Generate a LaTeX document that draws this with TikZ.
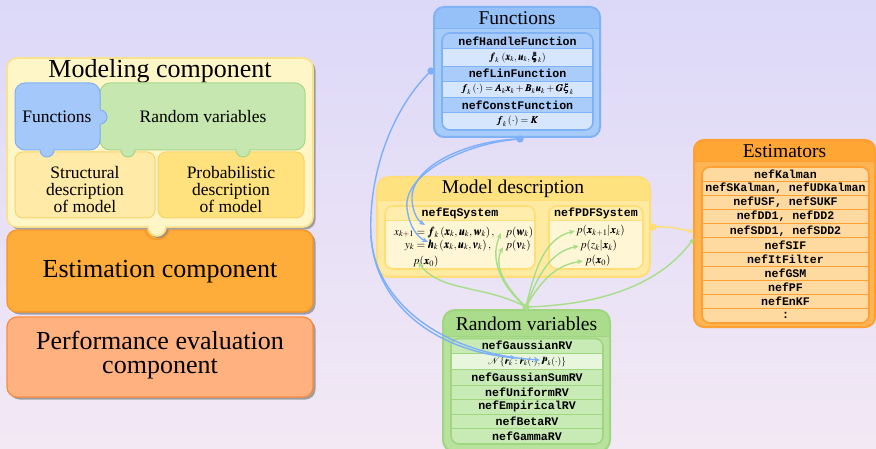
\documentclass[tikz,border=0pt]{standalone}
\usepackage{amsmath}
\usepackage{mathptmx}
\usepackage{bm}
\usepackage[no-math]{fontspec}
\setmainfont{Liberation Serif}
\setmonofont{Liberation Mono}
\usetikzlibrary{shadows,arrows.meta}

% background
\definecolor{bgtop}{RGB}{220,216,248}
\definecolor{bgbot}{RGB}{243,233,245}
% left-hand component blocks
\definecolor{modfill}{RGB}{255,246,200}
\definecolor{modbord}{RGB}{250,226,140}
\definecolor{funfill}{RGB}{164,200,250}
\definecolor{funbord}{RGB}{128,176,244}
\definecolor{rvfill}{RGB}{198,232,176}
\definecolor{rvbord}{RGB}{166,214,138}
\definecolor{strfill}{RGB}{255,234,168}
\definecolor{probfill}{RGB}{255,225,125}
\definecolor{ylbord}{RGB}{246,212,108}
\definecolor{estfill}{RGB}{255,173,58}
\definecolor{estbord}{RGB}{246,148,40}
\definecolor{perffill}{RGB}{255,178,128}
\definecolor{perfbord}{RGB}{255,138,62}
% class boxes
\definecolor{fbhead}{RGB}{150,192,248}
\definecolor{fbbody}{RGB}{168,204,250}
\definecolor{fbbord}{RGB}{128,178,246}
\definecolor{fbrowa}{RGB}{170,204,250}
\definecolor{fbrowb}{RGB}{214,230,253}
\definecolor{mdhead}{RGB}{255,226,128}
\definecolor{mdbody}{RGB}{255,234,162}
\definecolor{mdbord}{RGB}{255,222,120}
\definecolor{mdinhead}{RGB}{255,237,172}
\definecolor{mdinbody}{RGB}{255,246,214}
\definecolor{esthead}{RGB}{255,166,52}
\definecolor{estbody}{RGB}{255,180,82}
\definecolor{estrow}{RGB}{255,218,160}
\definecolor{estsep}{RGB}{255,160,52}
\definecolor{rvhead}{RGB}{170,220,140}
\definecolor{rvbody}{RGB}{184,226,158}
\definecolor{rvbox}{RGB}{160,214,128}
\definecolor{rvrow}{RGB}{200,234,180}
\definecolor{rvrowb}{RGB}{232,246,222}
% connectors
\definecolor{cblue}{RGB}{125,175,250}
\definecolor{cgreen}{RGB}{168,222,136}
\definecolor{cyellow}{RGB}{255,222,120}

\tikzset{
  bigtxt/.style={font=\fontsize{26}{24}\selectfont, align=center, inner sep=0pt},
  midtxt/.style={font=\fontsize{17.5}{17}\selectfont, align=center, inner sep=0pt},
  boxtitle/.style={font=\fontsize{19.5}{21}\selectfont, inner sep=0pt},
  mono/.style={font=\fontsize{11.6}{13}\selectfont\ttfamily\bfseries, inner sep=0pt},
  mathrow/.style={font=\fontsize{10}{12}\selectfont, inner sep=0pt},
  mathsys/.style={font=\fontsize{11.2}{13}\selectfont, inner sep=0pt},
  shd/.style={drop shadow={shadow xshift=2.5pt, shadow yshift=-2.5pt, fill=black!45, opacity=0.8}},
  conn/.style={line width=1.4pt, -{Stealth[length=6pt,width=5pt]}},
  knot/.style={line width=1.2pt, fill=white},
}

\begin{document}
\begin{tikzpicture}[x=1pt,y=-1pt]
\useasboundingbox (0,0) rectangle (876,449);
\shade[top color=bgtop, bottom color=bgbot] (0,0) rectangle (876,449);

% ---------------- left: framework components ----------------
% performance evaluation component
\path[fill=perffill, draw=perfbord, line width=1.2pt, rounded corners=10, shd]
  (7,317) rectangle (313,397);
\node[bigtxt] (perf) at (160,355) {Performance evaluation\\component};

% estimation component
\path[fill=estfill, draw=estbord, line width=1.2pt, rounded corners=10, shd]
  (7,230) rectangle (313,312);
\node[bigtxt] (estc) at (160,272) {Estimation component};

% modeling component with its knob hanging over the estimation block
\path[fill=modfill, draw=modbord, line width=1.6pt, shd]
  (17,58) -- (303,58) arc[start angle=-90, end angle=0, radius=10]
  -- (313,217) arc[start angle=0, end angle=90, radius=10]
  -- (166,227) arc[start angle=0, end angle=180, radius=9]
  -- (17,227) arc[start angle=90, end angle=180, radius=10]
  -- (7,68) arc[start angle=180, end angle=270, radius=10] -- cycle;
% socket rim of the estimation block round the knob
\draw[estbord, line width=1.2pt] (157,227) ++(160:12.5) arc[start angle=160, end angle=20, radius=12.5];
\node[font=\fontsize{26}{28}\selectfont, inner sep=0pt] (modt) at (160,71) {Modeling component};

% structural / probabilistic description pieces
\path[fill=strfill, draw=ylbord, line width=1pt, rounded corners=8] (15,152) rectangle (155,218);
\path[fill=probfill, draw=ylbord, line width=1pt, rounded corners=8] (158,152) rectangle (304,218);
\node[midtxt] (strd) at (85,190) {Structural\\description\\of model};
\node[midtxt] (prbd) at (231,190) {Probabilistic\\description\\of model};

% random variables piece
\path[fill=rvfill, draw=rvbord, line width=1pt]
  (110,83) -- (295,83) arc[start angle=-90, end angle=0, radius=10]
  -- (305,140) arc[start angle=0, end angle=90, radius=10]
  -- (250,150) arc[start angle=0, end angle=180, radius=7]
  -- (135,150) arc[start angle=0, end angle=180, radius=7]
  -- (110,150) arc[start angle=90, end angle=180, radius=10]
  -- (100,93) arc[start angle=180, end angle=270, radius=10] -- cycle;
\node[midtxt] (rvp) at (203,117) {Random variables};

% functions piece
\path[fill=funfill, draw=funbord, line width=1pt]
  (25,83) -- (90,83) arc[start angle=-90, end angle=0, radius=10]
  -- (100,110) arc[start angle=-90, end angle=90, radius=7]
  -- (100,140) arc[start angle=0, end angle=90, radius=10]
  -- (54,150) arc[start angle=0, end angle=180, radius=7]
  -- (25,150) arc[start angle=90, end angle=180, radius=10]
  -- (15,93) arc[start angle=180, end angle=270, radius=10] -- cycle;
\node[midtxt] (funp) at (57,117) {Functions};

% ---------------- right: class boxes ----------------
% Functions
\path[fill=fbbody, rounded corners=10] (434,7) rectangle (600,137);
\begin{scope}
  \clip[rounded corners=10] (434,7) rectangle (600,137);
  \fill[fbhead] (434,7) rectangle (600,29);
\end{scope}
\draw[fbbord, line width=1pt] (434,29) -- (600,29);
\draw[fbbord, line width=2pt, rounded corners=10] (434,7) rectangle (600,137);
\node[boxtitle] (fbt) at (517,18) {Functions};
\begin{scope}
  \clip[rounded corners=8] (442,33) rectangle (593,130);
  \fill[fbrowa] (442,33) rectangle (593,48.3);
  \fill[fbrowb] (442,48.3) rectangle (593,66);
  \fill[fbrowa] (442,66) rectangle (593,81);
  \fill[fbrowb] (442,81) rectangle (593,97.3);
  \fill[fbrowa] (442,97.3) rectangle (593,112.7);
  \fill[fbrowb] (442,112.7) rectangle (593,130);
\end{scope}
\foreach \yy in {48.3,66,81,97.3,112.7} \draw[fbbord, line width=0.9pt] (442,\yy) -- (593,\yy);
\draw[fbbord, line width=1.6pt, rounded corners=8] (442,33) rectangle (593,130);
\node[mono] (hfun) at (517.5,40.8) {nefHandleFunction};
\node[mathrow] (hfm) at (517.5,57.4) {$\bm{f}_k\,\left(\bm{x}_k,\bm{u}_k,\bm{\xi}_k\right)$};
\node[mono] (lfun) at (517.5,73.6) {nefLinFunction};
\node[mathrow] (lfm) at (517.5,89.3) {$\bm{f}_k\left(\cdot\right)=\bm{A}_k\bm{x}_k+\bm{B}_k\bm{u}_k+\bm{G}\bm{\xi}_k$};
\node[mono] (cfun) at (517.5,105.1) {nefConstFunction};
\node[mathrow] (cfm) at (517.5,121.4) {$\bm{f}_k\left(\cdot\right)=\bm{K}$};

% Model description
\path[fill=mdbody, rounded corners=12] (377,177) rectangle (650,277);
\begin{scope}
  \clip[rounded corners=12] (377,177) rectangle (650,277);
  \fill[mdhead] (377,177) rectangle (650,201);
\end{scope}
\draw[mdbord, line width=1pt] (377,201) -- (650,201);
\draw[mdbord, line width=2pt, rounded corners=12] (377,177) rectangle (650,277);
\node[boxtitle] (mdt) at (513,189) {Model description};
\foreach \xa/\xb in {385/535,549/643}{
  \begin{scope}
    \clip[rounded corners=8] (\xa,206) rectangle (\xb,269);
    \fill[mdinbody] (\xa,206) rectangle (\xb,269);
    \fill[mdinhead] (\xa,206) rectangle (\xb,220);
  \end{scope}
  \draw[mdbord, line width=0.9pt] (\xa,220) -- (\xb,220);
  \draw[mdbord, line width=1.6pt, rounded corners=8] (\xa,206) rectangle (\xb,269);
}
\node[mono] (eqs) at (460,213) {nefEqSystem};
\node[mono] (pdfs) at (596,213) {nefPDFSystem};
\node[mathsys, anchor=west] (eqm) at (394,239)
  {$\begin{array}{@{}r@{\;}l@{\quad}l@{}}
     x_{k+1} & = \bm{f}_k\left(\bm{x}_k,\bm{u}_k,\bm{w}_k\right), & p(\bm{w}_k)\\[0pt]
     y_k & = \bm{h}_k\left(\bm{x}_k,\bm{u}_k,\bm{v}_k\right), & p(\bm{v}_k)
   \end{array}$};
\node[mathsys, anchor=base west] (px0a) at (413,265) {$p(\bm{x}_0)$};
\node[mathsys, anchor=base west] (pxk) at (576,234) {$p(\bm{x}_{k+1}|\bm{x}_k)$};
\node[mathsys, anchor=base west] (pzk) at (580,249) {$p(z_k|\bm{x}_k)$};
\node[mathsys, anchor=base west] (px0b) at (585,264) {$p(\bm{x}_0)$};

% Estimators
\path[fill=estbody, rounded corners=10] (694,140) rectangle (875,327);
\begin{scope}
  \clip[rounded corners=10] (694,140) rectangle (875,327);
  \fill[esthead] (694,140) rectangle (875,162);
\end{scope}
\draw[estsep, line width=1pt] (694,162) -- (875,162);
\draw[estsep, line width=2pt, rounded corners=10] (694,140) rectangle (875,327);
\node[boxtitle] (estt) at (784.5,151) {Estimators};
\fill[estrow, rounded corners=8] (702,167) rectangle (869,323);
\foreach \i in {1,...,10} \draw[estsep, line width=1pt] (702,167+14.18*\i) -- (869,167+14.18*\i);
\draw[estsep, line width=1.6pt, rounded corners=8] (702,167) rectangle (869,323);
\foreach \t [count=\i] in {nefKalman,{nefSKalman, nefUDKalman},{nefUSF, nefSUKF},{nefDD1, nefDD2},{nefSDD1, nefSDD2},nefSIF,nefItFilter,nefGSM,nefPF,nefEnKF,:}
  \node[mono] (est\i) at (785.5,167+14.18*\i-7.09) {\t};

% Random variables
\path[fill=rvbody, rounded corners=12] (443,310) rectangle (610,452);
\begin{scope}
  \clip[rounded corners=12] (443,310) rectangle (610,452);
  \fill[rvhead] (443,310) rectangle (610,336);
\end{scope}
\draw[rvbox, line width=1pt] (443,336) -- (610,336);
\draw[rvbox, line width=2pt, rounded corners=12] (443,310) rectangle (610,452);
\node[boxtitle] (rvt) at (526.5,324) {Random variables};
\begin{scope}
  \clip[rounded corners=8] (451,338.5) rectangle (603,444);
  \fill[rvrow] (451,338.5) rectangle (603,444);
  \fill[rvrowb] (451,353.3) rectangle (603,369.3);
\end{scope}
\foreach \yy in {353.3,369.3,385,399.3,414,428.3} \draw[rvbox, line width=0.9pt] (451,\yy) -- (603,\yy);
\draw[rvbox, line width=1.6pt, rounded corners=8] (451,338.5) rectangle (603,444);
\node[mono] (grv) at (527,345.6) {nefGaussianRV};
\node[font=\fontsize{9.5}{11}\selectfont, inner sep=0pt] (nrv) at (527,361.8)
  {$\mathcal{N}\{\bm{r}_k:\hat{\bm{r}}_k(\cdot),\bm{P}_k(\cdot)\}$};
\node[mono] (gsrv) at (527,377.2) {nefGaussianSumRV};
\node[mono] (urv) at (527,392.2) {nefUniformRV};
\node[mono] (erv) at (527,406.7) {nefEmpiricalRV};
\node[mono] (brv) at (527,421.2) {nefBetaRV};
\node[mono] (gmrv) at (527,436.2) {nefGammaRV};

% ---------------- connectors ----------------
\coordinate (c1) at (431,71);
\coordinate (c2) at (520,139);
\coordinate (c3) at (526,307);
\coordinate (c4) at (653,227);
\coordinate (bend) at (371,235);
\coordinate (tR1) at (516,358);
\coordinate (tR2) at (540,360);
\coordinate (tF) at (425,225);
\coordinate (tH) at (428,242);
\coordinate (tP0) at (418,262);
\coordinate (tW) at (501,233);
\coordinate (tV) at (503,247);
\coordinate (tPa) at (575,231);
\coordinate (tPb) at (579,246);
\coordinate (tPc) at (583,261);
\coordinate (tE) at (694,238);
\coordinate (tE2) at (694,232);

% functions to random variable moments
\draw[conn, cblue] (c1) .. controls (395,105) and (368,170) .. (bend)
  .. controls (374,300) and (430,350) .. (tR1);
\draw[conn, cblue] (bend) .. controls (374,300) and (440,354) .. (tR2);
% functions to system equations
\draw[conn, cblue] (c2) .. controls (470,140) and (410,165) .. (412,200)
  .. controls (413,212) and (417,220) .. (tF);
\draw[conn, cblue] (c2) .. controls (470,142) and (403,172) .. (407,208)
  .. controls (409,226) and (417,237) .. (tH);
% random variables to model description and estimators
\draw[conn, cgreen] (c3) .. controls (485,285) and (440,292) .. (tP0);
\draw[conn, cgreen] (c3) .. controls (505,290) and (488,262) .. (tW);
\draw[conn, cgreen] (c3) .. controls (510,292) and (492,268) .. (tV);
\draw[conn, cgreen] (c3) .. controls (535,268) and (545,238) .. (tPa);
\draw[conn, cgreen] (c3) .. controls (538,275) and (550,252) .. (tPb);
\draw[conn, cgreen] (c3) .. controls (540,282) and (555,265) .. (tPc);
\draw[conn, cgreen] (c3) .. controls (600,305) and (660,285) .. (tE);
% model description to estimators
\draw[conn, cyellow] (c4) .. controls (670,226) and (680,229) .. (tE2);

\draw[knot, cblue] (c1) circle[radius=3];
\draw[knot, cblue] (c2) circle[radius=3];
\draw[knot, cgreen] (c3) circle[radius=3];
\draw[knot, cyellow] (c4) circle[radius=3];
\end{tikzpicture}
\end{document}
